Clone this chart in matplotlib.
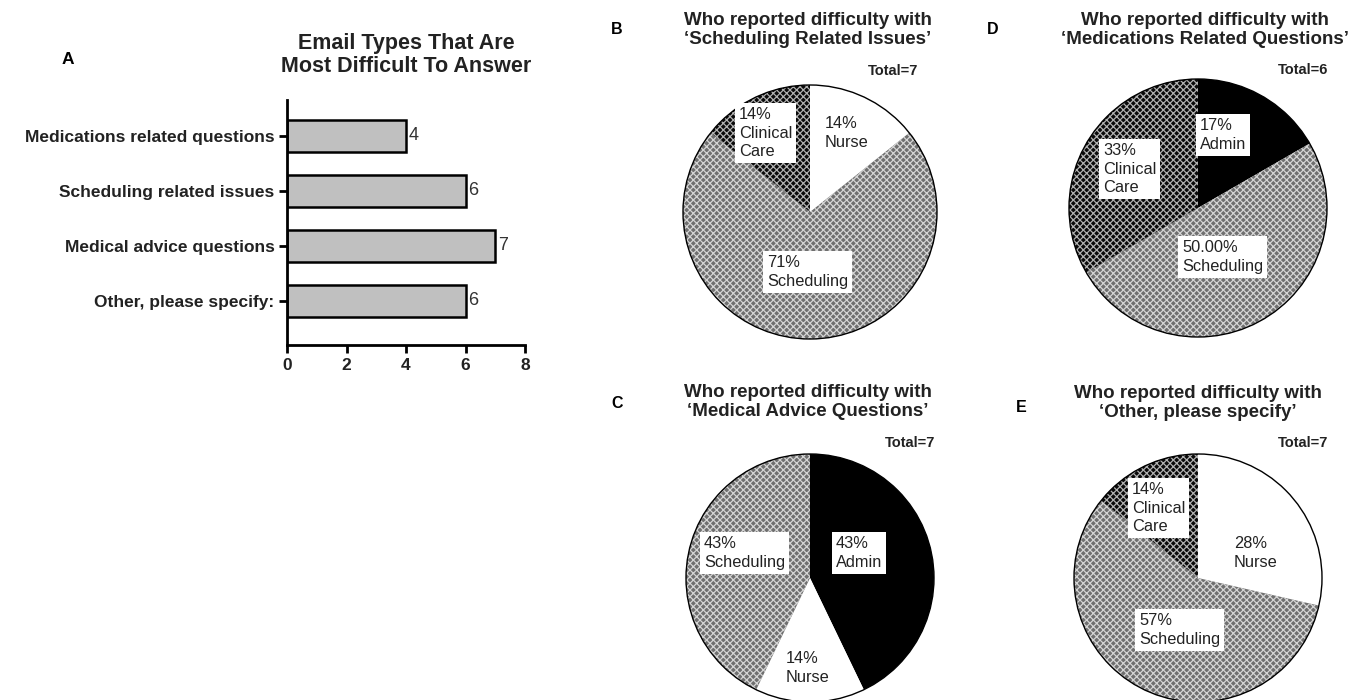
import numpy as np
import matplotlib
matplotlib.use('Agg')
import matplotlib.pyplot as plt
from matplotlib.patches import Circle

plt.rcParams['font.family'] = ['Liberation Sans', 'DejaVu Sans']
plt.rcParams['hatch.linewidth'] = 0.9

W, H = 1349, 700

# ---- data ----
categories = ['Medications related questions', 'Scheduling related issues',
              'Medical advice questions', 'Other, please specify:']
counts = [4, 6, 7, 6]

pie_B_labels = ['Nurse', 'Scheduling', 'Clinical\nCare']
pie_B_vals = [1, 5, 1]
pie_B_pct = ['14%', '71%', '14%']

pie_D_labels = ['Admin', 'Scheduling', 'Clinical\nCare']
pie_D_vals = [1, 3, 2]
pie_D_pct = ['17%', '50.00%', '33%']

pie_C_labels = ['Admin', 'Nurse', 'Scheduling']
pie_C_vals = [3, 1, 3]
pie_C_pct = ['43%', '14%', '43%']

pie_E_labels = ['Nurse', 'Scheduling', 'Clinical\nCare']
pie_E_vals = [2, 4, 1]
pie_E_pct = ['28%', '57%', '14%']

# face colour, hatch, hatch colour
styles = {
    'Nurse': ('white', None, 'white'),
    'Admin': ('black', None, 'black'),
    'Scheduling': ('#6f6f6f', 'xxxxx', '#d4d4d4'),
    'Clinical\nCare': ('#0a0a0a', 'xxxxx', '#b0b0b0'),
}

fig = plt.figure(figsize=(W / 100, H / 100), dpi=100)


def px(x, y):
    return x / W, 1 - y / H


# ---- panel A: bar chart ----
ax = fig.add_axes([287 / W, 1 - 345 / H, (525 - 287) / W, (345 - 100) / H])
ypos = np.arange(len(categories))
ax.barh(ypos, counts, height=0.58, color='#c0c0c0', edgecolor='black', linewidth=1.8)
for y, c in zip(ypos, counts):
    ax.text(c + 0.08, y, str(c), va='center', ha='left', fontsize=13, color='#333333')
ax.set_xlim(0, 8)
ax.set_ylim(3.8, -0.65)
ax.set_yticks(ypos)
ax.set_yticklabels(categories, fontsize=12.5, fontweight='bold', color='#222222')
ax.set_xticks([0, 2, 4, 6, 8])
ax.set_xticklabels(['0', '2', '4', '6', '8'], fontsize=12.5, fontweight='bold', color='#222222')
for s in ['top', 'right']:
    ax.spines[s].set_visible(False)
for s in ['left', 'bottom']:
    ax.spines[s].set_linewidth(2)
ax.tick_params(width=2, length=6, direction='out')
ax.tick_params(axis='y', pad=3)

fig.text(*px(406, 55), 'Email Types That Are\nMost Difficult To Answer', ha='center',
         va='center', fontsize=15.5, fontweight='bold', linespacing=1.15, color='#222222')
fig.text(*px(68, 60), 'A', ha='center', va='center', fontsize=12.5, fontweight='bold')


# ---- pies ----
def draw_pie(cx, cy, r, labels, vals, pcts, title, letter, letter_xy, total, total_xy, title_xy, label_xy):
    s = 1.03
    ax = fig.add_axes([(cx - r * s) / W, 1 - (cy + r * s) / H, 2 * r * s / W, 2 * r * s / H])
    fcs = [styles[l][0] for l in labels]
    wedges, _ = ax.pie(vals, startangle=90, counterclock=False, colors=fcs,
                       wedgeprops=dict(linewidth=0))
    for w, l in zip(wedges, labels):
        fc, hatch, hc = styles[l]
        w.set_edgecolor(hc)
        if hatch:
            w.set_hatch(hatch)
    ax.add_patch(Circle((0, 0), 1, fill=False, edgecolor='black', linewidth=1.0))
    ax.set_xlim(-s, s)
    ax.set_ylim(-s, s)
    ax.set_aspect('equal')
    ax.axis('off')
    for l, p, (tx, ty, box) in zip(labels, pcts, label_xy):
        t = fig.text(*px(tx, ty), p + '\n' + l, ha='left', va='top', fontsize=11.8,
                     linespacing=1.3, color='#222222')
        if box:
            t.set_bbox(dict(facecolor='white', edgecolor='none', pad=3))
    fig.text(*px(*title_xy), title, ha='center', va='center', fontsize=13.5,
             fontweight='bold', linespacing=1.2, color='#222222')
    fig.text(*px(*letter_xy), letter, ha='center', va='center', fontsize=11.5, fontweight='bold')
    fig.text(*px(*total_xy), 'Total=%d' % total, ha='right', va='center', fontsize=10.5,
             fontweight='bold', color='#222222')


draw_pie(810, 212, 127, pie_B_labels, pie_B_vals, pie_B_pct,
         'Who reported difficulty with\n\u2018Scheduling Related Issues\u2019', 'B', (617, 30),
         sum(pie_B_vals), (918, 71), (808, 30),
         [(825, 116, False), (767, 255, True), (739, 107, True)])

draw_pie(1198, 208, 129, pie_D_labels, pie_D_vals, pie_D_pct,
         'Who reported difficulty with\n\u2018Medications Related Questions\u2019', 'D', (993, 30),
         sum(pie_D_vals), (1328, 70), (1205, 30),
         [(1200, 118, True), (1182, 240, True), (1103, 143, True)])

draw_pie(810, 578, 124, pie_C_labels, pie_C_vals, pie_C_pct,
         'Who reported difficulty with\n\u2018Medical Advice Questions\u2019', 'C', (617, 403),
         sum(pie_C_vals), (935, 443), (808, 402),
         [(836, 536, True), (786, 651, False), (704, 536, True)])

draw_pie(1198, 578, 124, pie_E_labels, pie_E_vals, pie_E_pct,
         'Who reported difficulty with\n\u2018Other, please specify\u2019', 'E', (1021, 408),
         sum(pie_E_vals), (1328, 443), (1198, 403),
         [(1234, 536, False), (1139, 613, True), (1132, 482, True)])

fig.savefig('out.png', dpi=100)
